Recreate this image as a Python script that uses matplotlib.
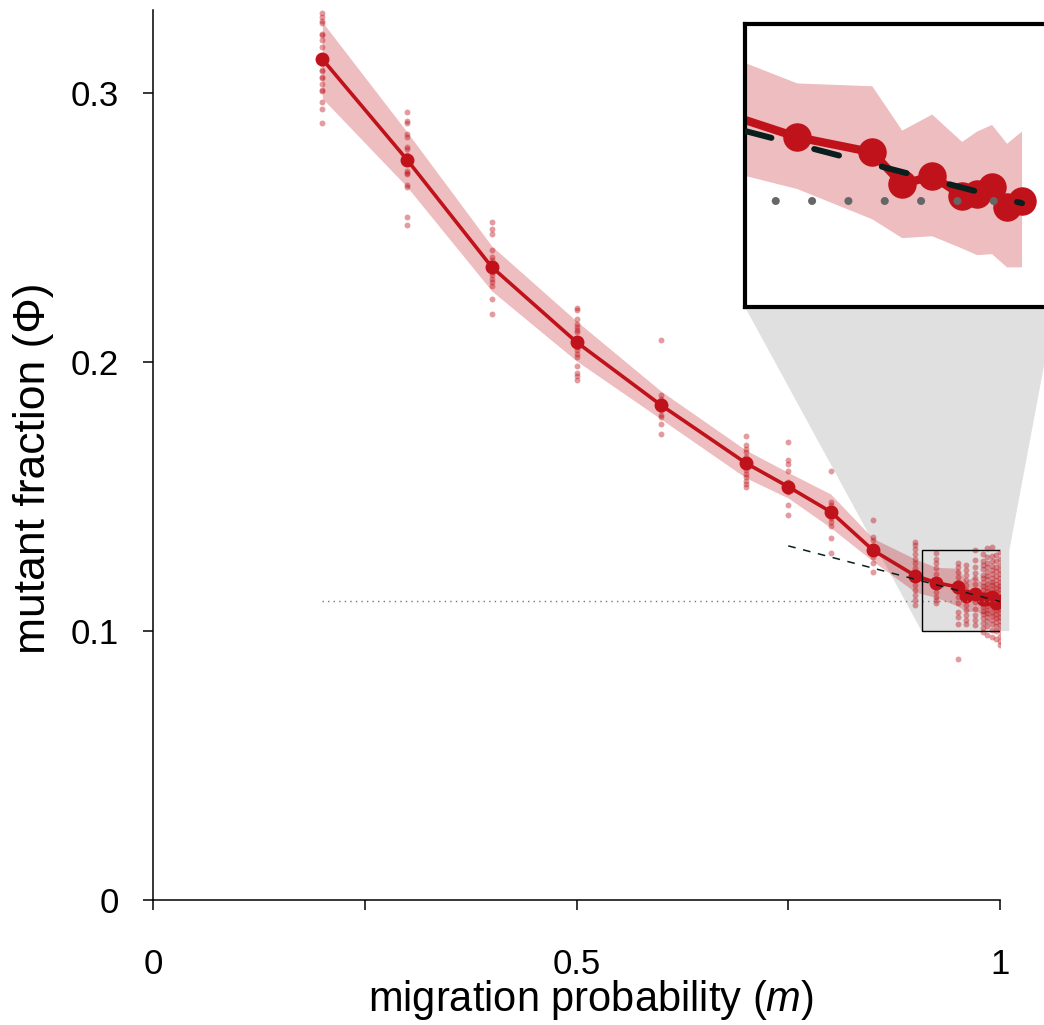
import numpy as np
import matplotlib.pyplot as plt
from matplotlib.patches import Rectangle, Polygon

plt.rcParams['font.family'] = ['Liberation Sans', 'DejaVu Sans']
plt.rcParams['mathtext.fontset'] = 'custom'
plt.rcParams['mathtext.rm'] = 'Liberation Sans'
plt.rcParams['mathtext.it'] = 'Liberation Sans:italic'

# migration probabilities and mean mutant fraction
m = [0.2, 0.3, 0.4, 0.5, 0.6, 0.7, 0.75, 0.8, 0.85, 0.9,
     0.925, 0.95, 0.96, 0.97, 0.98, 0.985, 0.99, 0.995, 1.0]
phi_mean = [0.3127, 0.2753, 0.2354, 0.2075, 0.1840, 0.1625, 0.1537, 0.1444, 0.1301, 0.1206,
            0.1180, 0.1164, 0.1130, 0.1139, 0.1118, 0.1120, 0.1127, 0.1106, 0.1112]
phi_hi = [0.3265, 0.2856, 0.2432, 0.2153, 0.1892, 0.1673, 0.1590, 0.1510, 0.1345, 0.1268,
          0.1237, 0.1234, 0.1187, 0.1204, 0.1175, 0.1186, 0.1193, 0.1173, 0.1186]
phi_lo = [0.2981, 0.2652, 0.2265, 0.2005, 0.1788, 0.1570, 0.1495, 0.1385, 0.1260, 0.1145,
          0.1125, 0.1093, 0.1073, 0.1075, 0.1062, 0.1055, 0.1056, 0.1042, 0.1042]

# individual runs per migration probability
runs = [
    [0.3299, 0.3284, 0.3269, 0.3261, 0.3222, 0.3218, 0.3200, 0.3172, 0.3110, 0.3088,
     0.3083, 0.3061, 0.3058, 0.3033, 0.3014, 0.3009, 0.2968, 0.2943, 0.2890],
    [0.2930, 0.2897, 0.2890, 0.2848, 0.2838, 0.2800, 0.2794, 0.2770, 0.2755, 0.2711,
     0.2704, 0.2699, 0.2658, 0.2652, 0.2540, 0.2509],
    [0.2522, 0.2497, 0.2478, 0.2419, 0.2391, 0.2382, 0.2354, 0.2336, 0.2323, 0.2311,
     0.2299, 0.2283, 0.2237, 0.2178],
    [0.2203, 0.2196, 0.2159, 0.2141, 0.2131, 0.2121, 0.2113, 0.2075, 0.2057, 0.2045,
     0.2032, 0.2020, 0.1985, 0.1960, 0.1948, 0.1935],
    [0.2084, 0.1877, 0.1865, 0.1852, 0.1840, 0.1822, 0.1803, 0.1795, 0.1772, 0.1732],
    [0.1725, 0.1691, 0.1679, 0.1667, 0.1648, 0.1623, 0.1599, 0.1586, 0.1574, 0.1559,
     0.1549, 0.1536],
    [0.1704, 0.1638, 0.1620, 0.1596, 0.1555, 0.1536, 0.1518, 0.1468, 0.1431],
    [0.1596, 0.1481, 0.1468, 0.1444, 0.1419, 0.1406, 0.1390, 0.1345, 0.1291],
    [0.1415, 0.1351, 0.1338, 0.1316, 0.1301, 0.1276, 0.1252, 0.1219],
    [0.1332, 0.1320, 0.1304, 0.1286, 0.1270, 0.1252, 0.1233, 0.1214, 0.1190, 0.1171,
     0.1152, 0.1134, 0.1115, 0.1097],
    [0.1291, 0.1270, 0.1252, 0.1233, 0.1214, 0.1183, 0.1165, 0.1146, 0.1128, 0.1115,
     0.1103],
    [0.1252, 0.1237, 0.1220, 0.1202, 0.1183, 0.1167, 0.1146, 0.1128, 0.1103, 0.1072,
     0.1053, 0.1028, 0.0895],
    [0.1245, 0.1227, 0.1208, 0.1190, 0.1171, 0.1152, 0.1134, 0.1115, 0.1097, 0.1078,
     0.1059, 0.1041, 0.1026],
    [0.1301, 0.1264, 0.1239, 0.1217, 0.1196, 0.1177, 0.1152, 0.1134, 0.1109, 0.1084,
     0.1059, 0.1041, 0.1022],
    [0.1288, 0.1262, 0.1245, 0.1231, 0.1210, 0.1198, 0.1183, 0.1166, 0.1152, 0.1139,
     0.1127, 0.1115, 0.1101, 0.1090, 0.1074, 0.1063, 0.1049, 0.1031, 0.1012, 0.0998],
    [0.1308, 0.1276, 0.1253, 0.1240, 0.1221, 0.1204, 0.1192, 0.1175, 0.1161, 0.1148,
     0.1136, 0.1120, 0.1109, 0.1094, 0.1080, 0.1066, 0.1051, 0.1036, 0.1019, 0.0985],
    [0.1313, 0.1281, 0.1259, 0.1242, 0.1226, 0.1213, 0.1196, 0.1181, 0.1170, 0.1155,
     0.1141, 0.1128, 0.1116, 0.1103, 0.1089, 0.1072, 0.1058, 0.1042, 0.1025, 0.1004, 0.0979],
    [0.1283, 0.1260, 0.1238, 0.1222, 0.1205, 0.1189, 0.1174, 0.1160, 0.1146, 0.1131,
     0.1118, 0.1104, 0.1093, 0.1079, 0.1064, 0.1050, 0.1033, 0.1018, 0.0999, 0.0972],
    [0.1295, 0.1268, 0.1247, 0.1229, 0.1213, 0.1196, 0.1182, 0.1168, 0.1155, 0.1141,
     0.1128, 0.1117, 0.1106, 0.1094, 0.1081, 0.1068, 0.1053, 0.1039, 0.1022, 0.1004,
     0.0981, 0.0962, 0.0948],
]

# reference lines
dot_m = [0.2, 1.0]
dot_phi = [0.1112, 0.1112]
dash_m = [0.75, 1.0]
dash_phi = [0.1317, 0.1110]

# zoomed region
zoom_x = (0.9075, 1.011)
zoom_y = (0.100, 0.130)

red = '#c0121a'
dark = '#0a1e1e'

fig = plt.figure(figsize=(10.44, 10.25), dpi=100)
ax = fig.add_axes([153/1044, 125/1025, 847/1044, 890/1025])

ax.fill_between(m, phi_lo, phi_hi, color=red, alpha=0.28, linewidth=0, zorder=1)
for mi, r in zip(m, runs):
    ax.scatter([mi]*len(r), r, s=18, color=red, alpha=0.42, linewidth=0, zorder=2)
ax.plot(m, phi_mean, color=red, lw=2.6, marker='o', ms=9, zorder=3)
ax.plot(dot_m, dot_phi, color='#777777', lw=1.0, linestyle=(0, (1, 3)), zorder=4)
ax.plot(dash_m, dash_phi, color=dark, lw=1.1, linestyle=(0, (5, 5)), zorder=5)
ax.add_patch(Rectangle((zoom_x[0], zoom_y[0]), zoom_x[1]-zoom_x[0], zoom_y[1]-zoom_y[0],
                       fill=False, ec='black', lw=1.0, zorder=6))

ax.set_xlim(0, 1)
ax.set_ylim(0, 0.331)
ax.spines['top'].set_visible(False)
ax.spines['right'].set_visible(False)
ax.spines['left'].set_linewidth(1.1)
ax.spines['bottom'].set_linewidth(1.1)
ax.set_xticks([0, 0.25, 0.5, 0.75, 1])
ax.set_xticklabels(['0', '', '0.5', '', '1'])
ax.set_yticks([0, 0.1, 0.2, 0.3])
ax.set_yticklabels(['0', '0.1', '0.2', '0.3'])
ax.tick_params(axis='x', length=7.5, width=1.1, pad=27, labelsize=25)
ax.tick_params(axis='y', length=7.5, width=1.1, pad=17, labelsize=25)
ax.set_xlabel(r'migration probability ($m$)', fontsize=30)
ax.xaxis.set_label_coords(0.517, -0.088)
ax.xaxis.label.set_va('top')
ax.set_ylabel('mutant fraction (Φ)', fontsize=32, labelpad=12)
ax.yaxis.label.set_y(0.485)

# inset
ax_in = fig.add_axes([745/1044, 718/1025, 310/1044, 283/1025])
ax_in.fill_between(m, phi_lo, phi_hi, color=red, alpha=0.28, linewidth=0, zorder=1)
ax_in.plot(m, phi_mean, color=red, lw=6, marker='o', ms=19.5, zorder=2)
ax_in.plot(dot_m, dot_phi, color='#666666', lw=5.8, linestyle=(2.8, (0.01, 4.5)),
           dash_capstyle='round', zorder=3)
ax_in.plot(dash_m, dash_phi, color=dark, lw=4.3, linestyle=(0, (4.3, 7.4)),
           dash_capstyle='round', zorder=4)
ax_in.set_xlim(*zoom_x)
ax_in.set_ylim(*zoom_y)
ax_in.set_xticks([])
ax_in.set_yticks([])
for s in ax_in.spines.values():
    s.set_linewidth(3)

# gray connector between zoom box and inset
to_fig = ax.transData + fig.transFigure.inverted()
in_fig = ax_in.transAxes + fig.transFigure.inverted()
verts = [in_fig.transform((0, 0)), in_fig.transform((1, 0)),
         to_fig.transform((zoom_x[1], zoom_y[1])), to_fig.transform((zoom_x[1], zoom_y[0])),
         to_fig.transform((zoom_x[0], zoom_y[0]))]
ax.add_patch(Polygon(verts, closed=True, transform=fig.transFigure, color='#e0e0e0',
                     lw=0, clip_on=False, zorder=0.5))

fig.savefig('out.png', dpi=100)
